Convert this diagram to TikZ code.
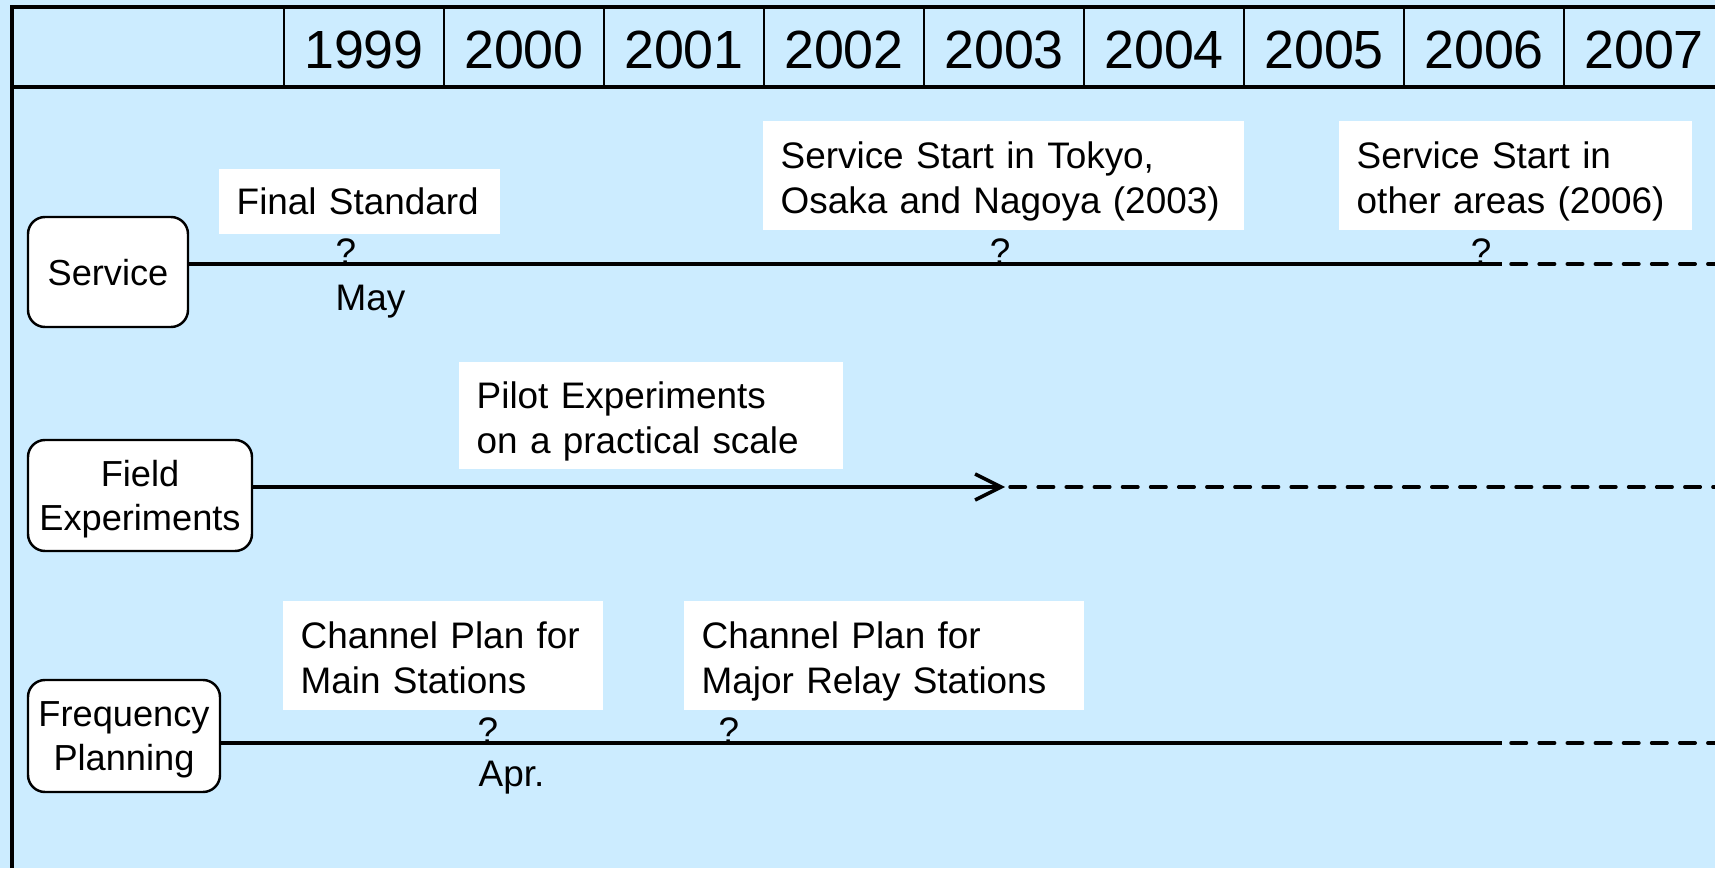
\documentclass[tikz,border=0pt]{standalone}
\usepackage{fontspec}
\setmainfont{Liberation Sans}
\usetikzlibrary{arrows.meta,positioning}
\definecolor{SkyPale}{RGB}{204,236,255}

\begin{document}
\begin{tikzpicture}[
    lane/.style={draw,line width=0.7pt,fill=white,rounded corners=1.7mm,align=center,inner sep=0pt,text depth=0pt,font=\fontsize{10.3}{12.4}\selectfont},
    note/.style={fill=white,anchor=north west,inner xsep=1.8mm,inner ysep=0pt,align=left,font=\fontsize{10.5}{12.8}\selectfont},
    twoline/.style={note,text depth=11.4pt,minimum height=1.09cm},
    track/.style={line width=1pt},
    later/.style={line width=1pt,line cap=round,dash pattern=on 4.4pt off 3.6pt},
    qmark/.style={anchor=base,inner sep=0pt,font=\fontsize{10.5}{12.8}\selectfont},
    month/.style={anchor=west,inner sep=0pt,font=\fontsize{10.5}{12.8}\selectfont}]
  \fill[SkyPale] (0,0) rectangle (17.15,8.68);
  \useasboundingbox (0,0) rectangle (17.15,8.68);

  % year header
  \foreach \yr [count=\i from 0] in {1999,...,2007} {
    \draw[line width=0.6pt] (2.84+1.6*\i,7.81) -- (2.84+1.6*\i,8.61);
    \node[font=\fontsize{15.3}{18}\selectfont] (y\yr) at (3.64+1.6*\i,8.18) {\yr};
  }
  \draw[line width=0.9pt] (0.12,7.81) -- (17.15,7.81);
  \draw[line width=1.4pt] (0.12,0) -- (0.12,8.61) -- (17.15,8.61);

  % lanes
  \node[lane,minimum width=1.60cm,minimum height=1.10cm] (svc) at (1.08,5.96) {Service};
  \node[lane,minimum width=2.24cm,minimum height=1.11cm] (fld) at (1.40,3.725) {Field\\Experiments};
  \node[lane,minimum width=1.92cm,minimum height=1.12cm] (frq) at (1.24,1.32) {Frequency\\Planning};

  \coordinate (svcend) at (15.02,6.04);
  \coordinate (svcfar) at (17.15,6.04);
  \coordinate (fldend) at (10.05,3.81);
  \coordinate (fldfar) at (17.15,3.81);
  \coordinate (frqend) at (15.02,1.25);
  \coordinate (frqfar) at (17.15,1.25);

  \draw[track] (svc.east |- svcend) -- (svcend);
  \draw[later] ([xshift=0.9mm]svcend) -- (svcfar);
  \draw[track,-{Straight Barb[length=2.6mm,width=2.6mm]}] (fld.east |- fldend) -- (fldend);
  \draw[later] ([xshift=0.5mm]fldend) -- (fldfar);
  \draw[track] (frq.east |- frqend) -- (frqend);
  \draw[later] ([xshift=0.9mm]frqend) -- (frqfar);

  % milestones
  \node[note,text width=2.45cm,minimum height=0.65cm] (finalstd) at (2.18,7.00) {Final Standard};
  \node[twoline,text width=4.45cm] (tokyo) at (7.62,7.48) {Service Start in Tokyo,\\Osaka and Nagoya (2003)};
  \node[twoline,text width=3.17cm] (others) at (13.38,7.48) {Service Start in\\other areas (2006)};
  \node[twoline,text width=3.48cm,minimum height=1.07cm] (pilot) at (4.58,5.07) {Pilot Experiments\\on a practical scale};
  \node[twoline,text width=2.84cm] (mainch) at (2.82,2.68) {Channel Plan for\\Main Stations};
  \node[twoline,text width=3.64cm] (relaych) at (6.83,2.68) {Channel Plan for\\Major Relay Stations};

  \node[qmark] (q1) at (3.46,6.04) {?};
  \node[qmark] (q2) at (10.00,6.04) {?};
  \node[qmark] (q3) at (14.81,6.04) {?};
  \node[qmark] (q4) at (4.88,1.25) {?};
  \node[qmark] (q5) at (7.29,1.25) {?};

  \node[month] (may) at (3.35,5.66) {May};
  \node[month] (apr) at (4.78,0.90) {Apr.};
\end{tikzpicture}
\end{document}
